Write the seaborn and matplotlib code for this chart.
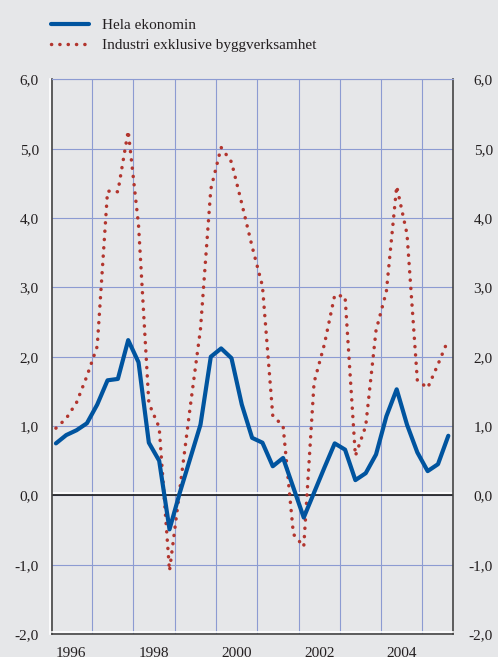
import numpy as np
import pandas as pd
import matplotlib
matplotlib.use("Agg")
import matplotlib.pyplot as plt
import matplotlib.patheffects as pe
from matplotlib.ticker import FixedLocator, FuncFormatter
import seaborn as sns

# quarterly growth, 1996 Q1 - 2005 Q3
start_year = 1996
hela = [0.75, 0.87, 0.94, 1.04, 1.31, 1.66, 1.68, 2.24, 1.92, 0.76,
        0.50, -0.49, 0.04, 0.53, 1.02, 2.00, 2.12, 1.98, 1.31, 0.83,
        0.76, 0.42, 0.54, 0.11, -0.32, 0.04, 0.40, 0.75, 0.66, 0.22,
        0.32, 0.59, 1.14, 1.53, 1.02, 0.62, 0.35, 0.45, 0.86]
industri = [0.97, 1.11, 1.34, 1.72, 2.15, 4.39, 4.38, 5.26, 3.90, 1.33,
            0.98, -1.09, 0.09, 1.27, 2.40, 4.42, 5.02, 4.81, 4.21, 3.59,
            3.02, 1.15, 1.00, -0.56, -0.74, 1.63, 2.18, 2.89, 2.87, 0.57,
            1.00, 2.38, 2.94, 4.46, 3.77, 1.66, 1.55, 1.89, 2.25]
year_labels = ["1996", "1998", "2000", "2002", "2004"]
y_ticks = [-2, -1, 0, 1, 2, 3, 4, 5, 6]

n = len(hela)
qidx = np.arange(n)
df = pd.DataFrame({
    "t": start_year + qidx // 4 + (qidx % 4 + 0.5) / 4,
    "Hela ekonomin": hela,
    "Industri exklusive byggverksamhet": industri,
})

bg = "#e6e7e9"
grid_c = "#8c9bd2"
txt_c = "#231f20"
sns.set_style("white", {"axes.facecolor": bg, "figure.facecolor": bg})
plt.rcParams["font.family"] = ["Liberation Serif", "DejaVu Serif"]
plt.rcParams["text.color"] = txt_c

fig = plt.figure(figsize=(4.98, 6.57), dpi=100)
ax = fig.add_axes([0.1044, 0.035, 0.9106 - 0.1044, 0.879 - 0.035])

# grid first
for v in y_ticks:
    ax.axhline(v, color=grid_c, lw=0.8, zorder=1)
for yr in range(start_year + 1, start_year + 10):
    ax.axvline(yr, color=grid_c, lw=0.8, zorder=1)
ax.axhline(0, color="#1a1a1a", lw=1.2, zorder=2,
           path_effects=[pe.SimpleLineShadow(offset=(0, 1.6), shadow_color="white", alpha=1, rho=1),
                         pe.Normal()])

sns.lineplot(data=df, x="t", y="Hela ekonomin", ax=ax, color="#00549f",
             lw=3.0, label="Hela ekonomin", zorder=4, sort=False)
sns.lineplot(data=df, x="t", y="Industri exklusive byggverksamhet", ax=ax,
             color="#b2352e", lw=2.5, linestyle=(0, (0.05, 2.35)),
             dash_capstyle="round", label="Industri exklusive byggverksamhet",
             zorder=3, sort=False)
for ln in ax.get_lines():
    ln.set_dash_capstyle("round")

ax.set_xlim(1996.03, 2005.75)
ax.set_ylim(-2, 6)
ax.set_xlabel("")
ax.set_ylabel("")

fmt = FuncFormatter(lambda v, p: f"{v:.1f}".replace(".", ","))
ax.yaxis.set_major_locator(FixedLocator(y_ticks))
ax.yaxis.set_major_formatter(fmt)
ax.tick_params(axis="y", length=0, labelsize=11, labelcolor=txt_c, pad=9.5)

# right-hand labels on a twin axis, right-aligned like the original
ax2 = ax.twinx()
ax2.set_ylim(ax.get_ylim())
ax2.yaxis.set_major_locator(FixedLocator(y_ticks))
ax2.yaxis.set_major_formatter(fmt)
ax2.tick_params(axis="y", length=0, labelsize=11, labelcolor=txt_c, pad=28.3)
for lbl in ax2.get_yticklabels():
    lbl.set_horizontalalignment("right")
for s in ax2.spines.values():
    s.set_visible(False)

ax.xaxis.set_major_locator(FixedLocator([int(y) + 0.5 for y in year_labels]))
ax.set_xticklabels(year_labels)
ax.xaxis.set_minor_locator(FixedLocator(list(range(start_year + 1, start_year + 10))))
ax.tick_params(axis="x", which="major", length=0, labelsize=11, pad=9,
               labelcolor=txt_c)
ax.tick_params(axis="x", which="minor", length=4, width=1.2, color="#333333",
               direction="out")

for side in ["left", "right", "bottom"]:
    ax.spines[side].set_color("#444444")
    ax.spines[side].set_linewidth(1.2)
ax.spines["top"].set_color(grid_c)
ax.spines["top"].set_linewidth(0.8)
ax.spines["left"].set_path_effects(
    [pe.SimpleLineShadow(offset=(-1.5, 0), shadow_color="white", alpha=1, rho=1), pe.Normal()])
ax.spines["bottom"].set_path_effects(
    [pe.SimpleLineShadow(offset=(0, 1.5), shadow_color="white", alpha=1, rho=1), pe.Normal()])

handles, labels = ax.get_legend_handles_labels()
ax.get_legend().remove()
leg = fig.legend(handles, labels, loc="upper left", bbox_to_anchor=(0.074, 0.993),
                 frameon=False, fontsize=11, handlelength=2.5, handletextpad=0.85,
                 labelspacing=0.4)
for h in leg.get_lines():
    h.set_dash_capstyle("round")

fig.savefig("out.png", dpi=100, facecolor=bg)
